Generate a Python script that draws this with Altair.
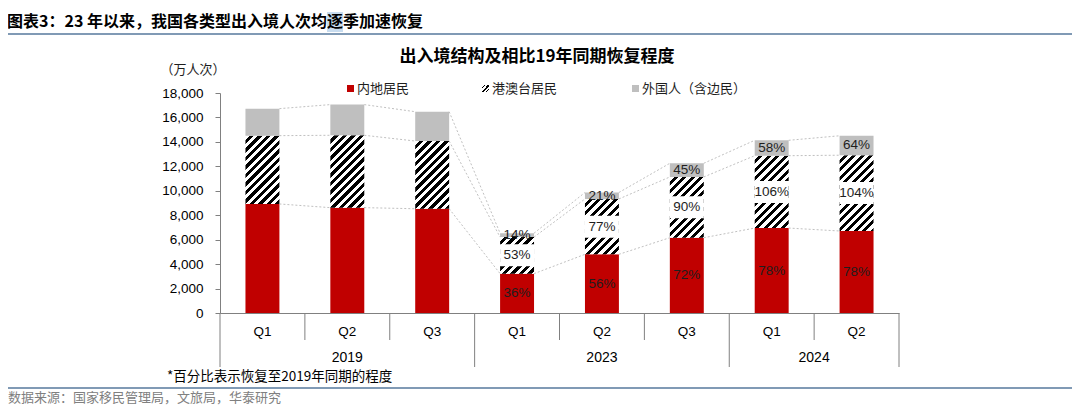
import math
import altair as alt
import pandas as pd

# ---------------- data ----------------
years = ["2019", "2019", "2019", "2023", "2023", "2023", "2024", "2024"]
quarters = ["Q1", "Q2", "Q3", "Q1", "Q2", "Q3", "Q1", "Q2"]
mainland = [8920, 8620, 8530, 3220, 4800, 6160, 6950, 6710]
hmt = [5590, 5920, 5540, 2990, 4530, 4970, 5920, 6200]
foreign = [2210, 2510, 2400, 320, 530, 1120, 1260, 1590]
mainland_pct = ["", "", "", "36%", "56%", "72%", "78%", "78%"]
hmt_pct = ["", "", "", "53%", "77%", "90%", "106%", "104%"]
foreign_pct = ["", "", "", "14%", "21%", "45%", "58%", "64%"]
y_ticks = [0, 2000, 4000, 6000, 8000, 10000, 12000, 14000, 16000, 18000]
series_names = ["内地居民", "港澳台居民", "外国人（含边民）"]
header_head = "图表3：23 年以来，我国各类型出入境人次均"
header_tail = "逐季加速恢复"
chart_title = "出入境结构及相比19年同期恢复程度"
unit_text = "（万人次）"
note_text = "*百分比表示恢复至2019年同期的程度"
source_text = "数据来源：国家移民管理局，文旅局，华泰研究"

# ---------------- layout / style ----------------
W, H = 679, 220
YMAX = 18000
BAR_FRAC = 0.4
step = W / len(years)
bar_w = step * BAR_FRAC
px_per_unit = H / YMAX
RED = "#c00000"
GRAY = "#bfbfbf"
AX = "#808080"
LINE_BLUE = "#56789c"
CJK = "Noto Sans CJK SC"
LAT = "Liberation Sans"
PAD_L, PAD_T = 212, 85
TOTAL_W, TOTAL_H = 1064, 398
HEAD_FS = 16


def hatch_gradient(w, h, period=8.5, white_frac=0.5):
    """45-degree '/' stripes expressed as an objectBoundingBox linear gradient."""
    L = w + h
    K = L / (w * w + h * h)
    gx, gy = w * K, h * K
    stops = []
    k = 0
    while k * period < L:
        a = k * period / L
        b = min((k + white_frac) * period / L, 1.0)
        c = min((k + 1) * period / L, 1.0)
        stops += [(a, "#ffffff"), (b, "#ffffff"), (b, "#000000"), (c, "#000000")]
        k += 1
    return alt.LinearGradient(
        gradient="linear", x1=0, y1=0, x2=round(gx, 5), y2=round(gy, 5),
        stops=[alt.GradientStop(offset=round(o, 5), color=c) for o, c in stops],
    )


keys = [f"{y}-{q}" for y, q in zip(years, quarters)]
df = pd.DataFrame({
    "key": keys, "year": years, "quarter": quarters,
    "mainland": mainland, "hmt": hmt, "foreign": foreign,
    "mainland_pct": mainland_pct, "hmt_pct": hmt_pct, "foreign_pct": foreign_pct,
})
df["m0"] = 0
df["m1"] = df["mainland"]
df["h0"] = df["m1"]
df["h1"] = df["h0"] + df["hmt"]
df["f0"] = df["h1"]
df["f1"] = df["f0"] + df["foreign"]
df["m_mid"] = (df["m0"] + df["m1"]) / 2
df["h_mid"] = (df["h0"] + df["h1"]) / 2
df["f_mid"] = (df["f0"] + df["f1"]) / 2

xscale = alt.Scale(domain=keys, paddingInner=0, paddingOuter=0)
yscale = alt.Scale(domain=[0, YMAX], nice=False)

x_axis = alt.Axis(
    title=None, ticks=False, domain=True, domainColor=AX, grid=False,
    labelExpr="split(datum.label, '-')[1]", labelFont=LAT, labelFontSize=13.5,
    labelColor="black", labelPadding=11, labelAngle=0,
)
y_axis = alt.Axis(
    title=None, values=y_ticks, labelExpr="format(datum.value, ',')", grid=False,
    tickSize=5, labelPadding=12, domainColor=AX, tickColor=AX,
    labelFont=LAT, labelFontSize=13.5, labelColor="black",
)


def X(**kw):
    return alt.X("key:N", sort=keys, scale=xscale, axis=x_axis, **kw)


def Y(field):
    return alt.Y(field, scale=yscale, axis=y_axis)


layers = []

# red (mainland) bars
layers.append(
    alt.Chart(df).mark_bar(color=RED, width=alt.RelativeBandSize(BAR_FRAC)).encode(
        x=X(), y=Y("m1:Q"), y2="m0:Q",
    )
)

# hatched (HK/Macau/Taiwan) bars
for i in range(len(keys)):
    grad = hatch_gradient(bar_w, hmt[i] * px_per_unit)
    layers.append(
        alt.Chart(df.iloc[[i]]).mark_bar(fill=grad, width=alt.RelativeBandSize(BAR_FRAC)).encode(
            x=X(), y=Y("h1:Q"), y2="h0:Q"
        )
    )

# gray (foreigners) bars
layers.append(
    alt.Chart(df).mark_bar(color=GRAY, width=alt.RelativeBandSize(BAR_FRAC)).encode(
        x=X(), y=Y("f1:Q"), y2="f0:Q"
    )
)

# dotted connectors between consecutive bars
link_rows = []
for i in range(len(keys) - 1):
    for lvl in ["m1", "h1", "f1"]:
        link_rows.append({"key": keys[i], "key2": keys[i + 1],
                          "v": float(df[lvl][i]), "v2": float(df[lvl][i + 1])})
links = pd.DataFrame(link_rows)
layers.append(
    alt.Chart(links).mark_rule(
        color="#b0b0b0", strokeDash=[2, 2], strokeWidth=0.8,
        xOffset=bar_w / 2, x2Offset=-bar_w / 2,
    ).encode(x=X(), x2="key2", y=Y("v:Q"), y2="v2:Q")
)

lab = df[df["hmt_pct"] != ""]
# white boxes behind the hatched-segment labels
layers.append(
    alt.Chart(lab).mark_tick(color="white", thickness=22, size=bar_w, opacity=1).encode(
        x=X(), y=Y("h_mid:Q")
    )
)
for mid, txt in [("m_mid", "mainland_pct"), ("h_mid", "hmt_pct"), ("f_mid", "foreign_pct")]:
    layers.append(
        alt.Chart(lab).mark_text(font=LAT, fontSize=13.5, color="#1e1e1e", baseline="middle").encode(
            x=X(), y=Y(f"{mid}:Q"), text=f"{txt}:N"
        )
    )

# x-axis group separators
is_start = [i == 0 or years[i] != years[i - 1] for i in range(len(years))]
short_sep = pd.DataFrame({"key": [k for k, s in zip(keys, is_start) if not s]})
long_sep = pd.DataFrame({"key": [k for k, s in zip(keys, is_start) if s]})
end_sep = pd.DataFrame({"key": [keys[-1]]})
layers.append(alt.Chart(short_sep).mark_rule(color=AX, strokeWidth=1).encode(
    x=X(bandPosition=0), y=alt.value(H), y2=alt.value(H + 27)))
layers.append(alt.Chart(long_sep).mark_rule(color=AX, strokeWidth=1).encode(
    x=X(bandPosition=0), y=alt.value(H), y2=alt.value(H + 54)))
layers.append(alt.Chart(end_sep).mark_rule(color=AX, strokeWidth=1).encode(
    x=X(bandPosition=1), y=alt.value(H), y2=alt.value(H + 54)))

# year labels centred under their quarters
year_rows_mid, year_rows_edge = [], []
for yv in dict.fromkeys(years):
    ks = [k for k, y in zip(keys, years) if y == yv]
    n = len(ks)
    if n % 2:
        year_rows_mid.append({"key": ks[n // 2], "year": yv})
    else:
        year_rows_edge.append({"key": ks[n // 2 - 1], "year": yv})
for rows, bp in [(year_rows_mid, 0.5), (year_rows_edge, 1.0)]:
    if rows:
        layers.append(alt.Chart(pd.DataFrame(rows)).mark_text(
            font=LAT, fontSize=14, color="black", baseline="middle").encode(
            x=X(bandPosition=bp), y=alt.value(H + 45), text="year:N"))


def note(text, x, y, **kw):
    return alt.Chart(alt.Data(values=[{}])).mark_text(text=text, baseline="middle", **kw).encode(
        x=alt.value(x), y=alt.value(y))


def box(x, x2, y, y2, color):
    return alt.Chart(alt.Data(values=[{}])).mark_rect(color=color).encode(
        x=alt.value(x), x2=alt.value(x2), y=alt.value(y), y2=alt.value(y2))


def hline(x, x2, y, color, width):
    return alt.Chart(alt.Data(values=[{}])).mark_rule(color=color, strokeWidth=width).encode(
        x=alt.value(x), x2=alt.value(x2), y=alt.value(y))


# page header: the text is split at the highlighted character
split_x = 107
head_y = -70.7
layers.append(box(split_x, split_x + HEAD_FS, -81, -61, "#c8dcef"))
layers.append(note(header_head, split_x, head_y, align="right", font=CJK, fontSize=HEAD_FS, fontWeight="bold", color="black"))
layers.append(note(header_tail, split_x, head_y, align="left", font=CJK, fontSize=HEAD_FS, fontWeight="bold", color="black"))
layers.append(hline(-212, 852, -59, LINE_BLUE, 1.5))
layers.append(note(chart_title, 317, -36, align="center", font=CJK, fontSize=17, fontWeight="bold", color="black"))
layers.append(note(unit_text, -27, -23, align="center", font=CJK, fontSize=13, color="#1e1e1e"))

# legend
layers.append(box(127, 134, -8, -1, RED))
layers.append(note(series_names[0], 137, -4.5, align="left", font=CJK, fontSize=13, color="#1e1e1e"))
layers.append(alt.Chart(alt.Data(values=[{}])).mark_rect(fill=hatch_gradient(7, 7, period=4)).encode(
    x=alt.value(262), x2=alt.value(269), y=alt.value(-8), y2=alt.value(-1)))
layers.append(note(series_names[1], 272, -4.5, align="left", font=CJK, fontSize=13, color="#1e1e1e"))
layers.append(box(412, 419, -8, -1, GRAY))
layers.append(note(series_names[2], 422, -4.5, align="left", font=CJK, fontSize=13, color="#1e1e1e"))

# footnote and source
layers.append(note(note_text, -53, 284, align="left", font=CJK, fontSize=13.5, color="black"))
layers.append(hline(-212, 852, 295, LINE_BLUE, 1.5))
layers.append(note(source_text, -212, 305, align="left", font=CJK, fontSize=13, color="#808080"))

chart = alt.layer(*layers).properties(
    width=W, height=H,
    padding={"left": PAD_L, "top": PAD_T, "right": TOTAL_W - PAD_L - W, "bottom": TOTAL_H - PAD_T - H},
    autosize=alt.AutoSizeParams(type="none"),
    background="white",
).configure_view(stroke=None)

chart.save("out.html", embed_options={"renderer": "svg", "actions": False})
